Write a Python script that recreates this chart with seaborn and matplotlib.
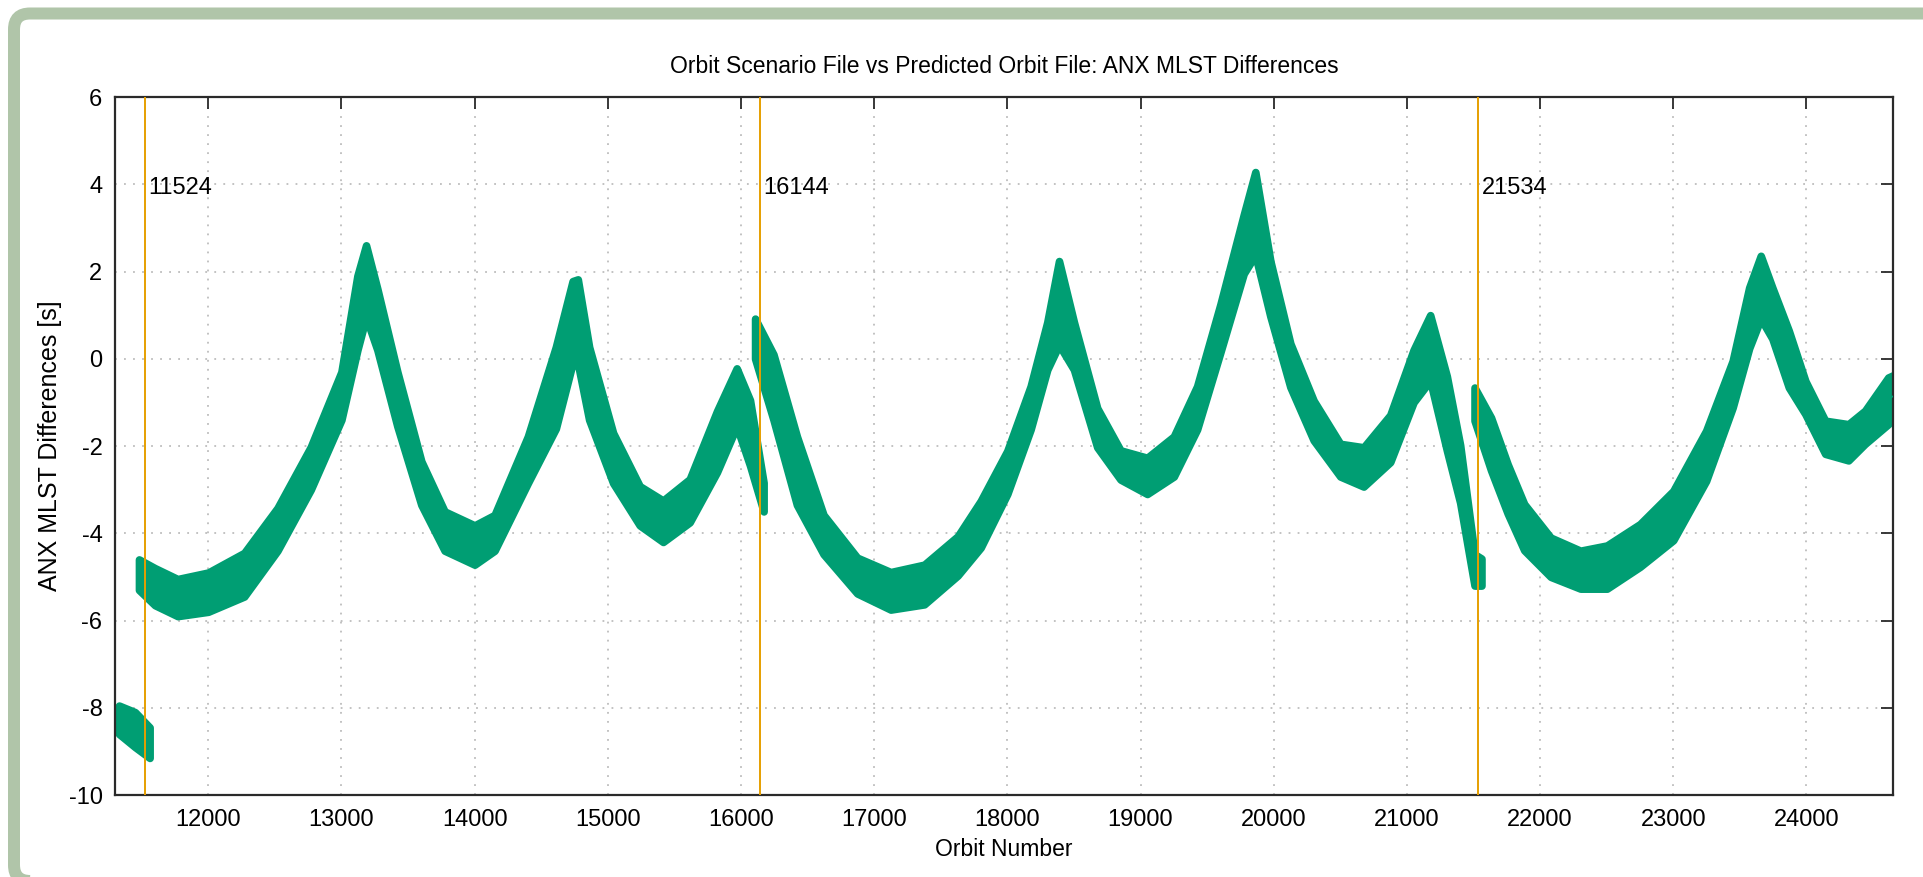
import numpy as np
import pandas as pd
import seaborn as sns
import matplotlib.pyplot as plt
from matplotlib.patches import FancyBboxPatch
from matplotlib.transforms import IdentityTransform

# band: orbit, lower edge, upper edge of the point cloud [s]
seg0_orbit = [11330, 11450, 11560]
seg0_low = [-8.6, -8.9, -9.15]
seg0_high = [-7.95, -8.1, -8.45]

seg1_orbit = [11480, 11600, 11770, 12000, 12270, 12520, 12770, 13000, 13120, 13185,
              13270, 13420, 13600, 13775, 14000, 14150, 14400, 14610, 14736, 14775,
              14860, 15040, 15240, 15415, 15615, 15820, 15968, 16068, 16170]
seg1_low = [-5.3, -5.65, -5.9, -5.8, -5.45, -4.4, -3.0, -1.4, 0.2, 0.95,
            0.2, -1.55, -3.35, -4.4, -4.72, -4.4, -2.85, -1.6, -0.1, -0.1,
            -1.4, -2.85, -3.82, -4.2, -3.75, -2.6, -1.55, -2.45, -3.5]
seg1_high = [-4.6, -4.8, -5.05, -4.9, -4.45, -3.42, -2.02, -0.3, 1.9, 2.6,
             1.6, -0.3, -2.35, -3.5, -3.82, -3.58, -1.78, 0.27, 1.78, 1.82,
             0.27, -1.7, -2.92, -3.25, -2.76, -1.2, -0.22, -0.95, -2.84]

seg2_orbit = [16106, 16244, 16420, 16620, 16873, 17124, 17376, 17627, 17800, 18000,
              18175, 18300, 18388, 18500, 18675, 18850, 19050, 19250, 19425, 19600,
              19775, 19862, 19975, 20125, 20300, 20500, 20675, 20875, 21050, 21175,
              21300, 21400, 21508, 21560]
seg2_low = [0.0, -1.4, -3.35, -4.48, -5.38, -5.75, -5.63, -4.97, -4.33, -3.1,
            -1.62, -0.25, 0.32, -0.25, -2.03, -2.77, -3.1, -2.7, -1.62, 0.15,
            1.95, 2.38, 0.97, -0.65, -1.87, -2.7, -2.93, -2.37, -1.0, -0.5,
            -2.1, -3.3, -5.2, -5.2]
seg2_high = [0.92, 0.1, -1.78, -3.58, -4.56, -4.89, -4.72, -4.07, -3.26, -2.11,
             -0.63, 0.84, 2.24, 0.84, -1.13, -2.1, -2.27, -1.78, -0.63, 1.25,
             3.3, 4.28, 2.24, 0.35, -0.96, -1.95, -2.03, -1.29, 0.2, 1.0,
             -0.4, -1.98, -4.48, -4.58]

seg3_orbit = [21508, 21632, 21757, 21881, 22080, 22303, 22502, 22750, 23000, 23247,
              23446, 23570, 23657, 23744, 23868, 23992, 24141, 24315, 24440, 24614,
              24650]
seg3_low = [-1.42, -2.56, -3.55, -4.39, -5.0, -5.27, -5.27, -4.77, -4.16, -2.8,
            -1.12, 0.24, 0.92, 0.46, -0.66, -1.27, -2.18, -2.33, -1.95, -1.5,
            -1.33]
seg3_high = [-0.66, -1.35, -2.42, -3.33, -4.1, -4.4, -4.28, -3.79, -3.03, -1.65,
             -0.05, 1.63, 2.36, 1.63, 0.64, -0.51, -1.42, -1.5, -1.19, -0.43,
             -0.38]

marker_orbits = [11524, 16144, 21534]
marker_labels = ['11524', '16144', '21534']

green = '#009e73'
orange = '#e69f00'

segments = [
    ('s0', seg0_orbit, seg0_low, seg0_high),
    ('s1', seg1_orbit, seg1_low, seg1_high),
    ('s2', seg2_orbit, seg2_low, seg2_high),
    ('s3', seg3_orbit, seg3_low, seg3_high),
]

# long table: two rows per orbit so the min-max interval gives the band
rows = []
for name, orb, lo, hi in segments:
    for o, l, h in zip(orb, lo, hi):
        rows.append((name, o, l))
        rows.append((name, o, h))
df = pd.DataFrame(rows, columns=['segment', 'orbit', 'diff'])

sns.set_style('white')
plt.rcParams['font.family'] = ['Liberation Sans', 'DejaVu Sans']
plt.rcParams['axes.unicode_minus'] = False
plt.rcParams['text.color'] = 'black'
plt.rcParams['axes.labelcolor'] = 'black'
plt.rcParams['xtick.color'] = 'black'
plt.rcParams['ytick.color'] = 'black'

fig = plt.figure(figsize=(19.23, 8.77), dpi=100)
ax = fig.add_axes([115 / 1923, 1 - 795 / 877, (1893 - 115) / 1923, (795 - 97) / 877])

# thick polygon edge mimics the size of the plotted point markers
sns.lineplot(
    data=df, x='orbit', y='diff', hue='segment',
    palette={name: green for name, *_ in segments},
    estimator='mean', errorbar=('pi', 100),
    err_kws={'alpha': 1, 'linewidth': 5.5, 'edgecolor': green, 'joinstyle': 'round'},
    linewidth=1, legend=False, ax=ax, zorder=3
)

for orb, lab in zip(marker_orbits, marker_labels):
    ax.axvline(orb, color=orange, lw=1.4, zorder=4)
    ax.annotate(lab, xy=(orb, 3.92), xytext=(2.5, 0), textcoords='offset points',
                ha='left', va='center', fontsize=17, zorder=5)

ax.set_xlim(11300, 24650)
ax.set_ylim(-10, 6)
ax.set_xticks(np.arange(12000, 24001, 1000))
ax.set_yticks(np.arange(-10, 7, 2))

ax.grid(True, color='#bdbdbd', linestyle=(0, (1, 4)), linewidth=1.3)
ax.set_axisbelow(True)
for sp in ax.spines.values():
    sp.set_color('#2a2a2a')
    sp.set_linewidth(1.6)
ax.tick_params(axis='both', direction='in', length=8.5, width=1.3, color='#2a2a2a',
               top=True, right=True, labelsize=17)
ax.tick_params(axis='x', pad=10)
ax.tick_params(axis='y', pad=9)

ax.set_xlabel('Orbit Number', fontsize=16.5, labelpad=5)
ax.set_ylabel('ANX MLST Differences [s]', fontsize=18, labelpad=5)
ax.set_title('Orbit Scenario File vs Predicted Orbit File: ANX MLST Differences',
             fontsize=16.5, pad=17)

# sage frame around the figure, cut by the right and bottom edges
frame = FancyBboxPatch((14, -4), 1923 + 40, 877 - 13.5 + 4,
                       boxstyle='round,pad=0,rounding_size=16',
                       transform=IdentityTransform(), facecolor='none',
                       edgecolor='#b0c5a9', linewidth=12 * 0.72, zorder=0)
fig.patches.append(frame)

fig.savefig('out.png', dpi=100)
